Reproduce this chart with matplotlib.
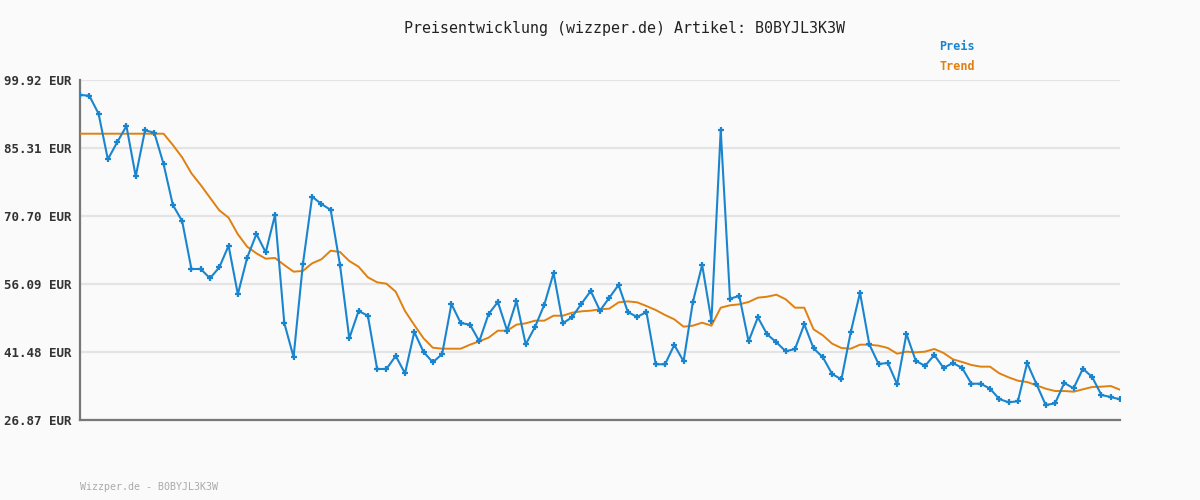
import matplotlib.pyplot as plt
import numpy as np

# Daten
preis = [96.70, 96.55, 92.68, 82.88, 86.53, 90.04, 79.23, 89.11, 88.60, 81.87,
         73.06, 69.62, 59.31, 59.31, 57.31, 59.67, 64.32, 53.88, 61.74, 66.83,
         62.89, 70.92, 47.71, 40.40, 60.32, 74.85, 73.28, 71.99, 60.17, 44.42,
         50.29, 49.28, 37.83, 37.83, 40.63, 36.90, 45.78, 41.48, 39.27, 41.05,
         51.79, 47.71, 47.35, 43.78, 49.64, 52.22, 46.07, 52.43, 43.13, 46.85,
         51.64, 58.45, 47.64, 48.99, 51.85, 54.59, 50.36, 53.15, 55.88, 50.07,
         49.00, 50.08, 38.84, 38.84, 42.99, 39.48, 52.22, 60.17, 48.21, 89.18,
         52.95, 53.51, 43.78, 48.92, 45.27, 43.56, 41.63, 42.13, 47.43, 42.27,
         40.34, 36.75, 35.60, 45.70, 54.21, 43.13, 38.91, 39.12, 34.54, 45.35,
         39.62, 38.47, 40.84, 38.05, 39.12, 38.05, 34.67, 34.67, 33.60, 31.38,
         30.67, 30.89, 39.12, 34.60, 30.09, 30.45, 34.82, 33.68, 37.89, 36.11,
         32.24, 31.81, 31.31]

trend = [88.38, 88.38, 88.38, 88.38, 88.38, 88.38, 88.38, 88.38, 88.38, 88.38,
         85.95, 83.30, 79.87, 77.36, 74.63, 71.92, 70.34, 66.77, 64.11, 62.68,
         61.53, 61.68, 60.17, 58.74, 58.89, 60.54, 61.40, 63.25, 62.97, 61.03,
         59.81, 57.53, 56.45, 56.16, 54.44, 50.29, 47.28, 44.42, 42.40, 42.19,
         42.19, 42.19, 43.05, 43.78, 44.56, 46.06, 46.06, 47.35, 47.64, 48.21,
         48.21, 49.28, 49.28, 49.93, 50.22, 50.36, 50.65, 50.79, 52.15, 52.36,
         52.15, 51.36, 50.50, 49.43, 48.50, 46.92, 47.14, 47.78, 47.14, 51.00,
         51.51, 51.72, 52.22, 53.15, 53.36, 53.79, 52.80, 51.00, 51.00, 46.35,
         45.06, 43.27, 42.34, 42.19, 43.05, 43.05, 42.84, 42.34, 41.12, 41.55,
         41.41, 41.55, 42.13, 41.27, 39.91, 39.33, 38.69, 38.33, 38.33, 36.90,
         36.04, 35.31, 35.03, 34.32, 33.60, 33.10, 33.10, 32.95, 33.46, 33.96,
         34.03, 34.17, 33.38]

y_ticks = [26.87, 41.48, 56.09, 70.70, 85.31, 99.92]

bg = '#fafafa'
blau = '#1a85cf'
orange = '#e0800f'
mono = 'DejaVu Sans Mono'

fig = plt.figure(figsize=(12, 5), dpi=100, facecolor=bg)
ax = fig.add_axes([80 / 1200, 80 / 500, 1040 / 1200, 340 / 500])
ax.set_facecolor(bg)

x = np.arange(len(preis))
ax.plot(x, trend, color=orange, lw=1.4, zorder=3)
ax.plot(x, preis, color=blau, lw=1.5, marker='+', ms=4, mew=1.6, zorder=4)

ax.set_xlim(0, len(preis) - 1)
ax.set_ylim(y_ticks[0], y_ticks[-1])
ax.set_yticks(y_ticks)
ax.set_yticklabels([f'{v:.2f} EUR' for v in y_ticks], fontfamily=mono,
                   fontsize=9, fontweight='bold', color='#333333')
ax.set_xticks([])
ax.tick_params(axis='y', length=0, pad=6)
ax.grid(axis='y', color='#e4e4e4', lw=1.6, zorder=0)

for s in ['top', 'right']:
    ax.spines[s].set_visible(False)
for s in ['left', 'bottom']:
    ax.spines[s].set_color('#777777')
    ax.spines[s].set_linewidth(1.6)

fig.text(624 / 1200, 1 - 28 / 500, 'Preisentwicklung (wizzper.de) Artikel: B0BYJL3K3W',
         ha='center', va='center', fontfamily=mono, fontsize=10.8, color='#222222')
fig.text(939 / 1200, 1 - 47 / 500, 'Preis', ha='left', va='center',
         fontfamily=mono, fontsize=8.5, fontweight='bold', color=blau)
fig.text(939 / 1200, 1 - 67 / 500, 'Trend', ha='left', va='center',
         fontfamily=mono, fontsize=8.5, fontweight='bold', color=orange)
fig.text(80 / 1200, 1 - 487 / 500, 'Wizzper.de - B0BYJL3K3W', ha='left', va='center',
         fontfamily=mono, fontsize=7.2, color='#aaaaaa')

fig.savefig('out.png', dpi=100, facecolor=bg)
